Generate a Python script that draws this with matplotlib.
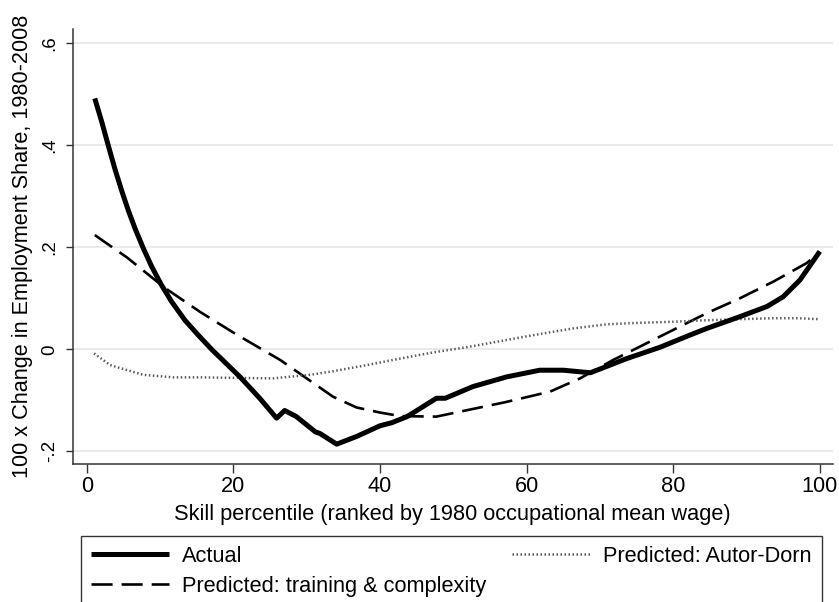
import matplotlib
matplotlib.use('Agg')
import matplotlib.pyplot as plt

plt.rcParams['font.family'] = ['Liberation Sans', 'DejaVu Sans']

# Actual
actual_x = [1.1, 2.05, 2.95, 3.86, 4.77, 5.68, 6.59, 7.72, 8.87, 10.2, 11.6, 13.4, 15.2,
            17.1, 20.9, 23.6, 25.9, 27, 28.6, 31.2, 31.8, 34.1, 36.8, 40, 41.6, 43.7,
            47.7, 48.9, 52.7, 57.3, 61.8, 65, 68.7, 73.7, 78.2, 82.3, 84.6, 89.1, 92.8,
            95, 97.3, 98.7, 100]
actual_y = [0.492, 0.446, 0.399, 0.353, 0.311, 0.272, 0.237, 0.198, 0.162, 0.126, 0.093,
            0.057, 0.028, -0.001, -0.054, -0.096, -0.135, -0.120, -0.132, -0.162, -0.165,
            -0.186, -0.171, -0.150, -0.144, -0.132, -0.096, -0.096, -0.073, -0.054,
            -0.041, -0.041, -0.046, -0.018, 0.004, 0.028, 0.041, 0.064, 0.084, 0.103,
            0.136, 0.165, 0.192]

# Predicted: training & complexity
train_x = [1.1, 5.5, 10.7, 15.5, 20.2, 26.4, 30, 33.6, 36.8, 40, 42.8, 47.7, 52, 57, 63.2,
           67.3, 71.8, 76.4, 80, 84.6, 89.1, 93.7, 98.2, 100]
train_y = [0.224, 0.180, 0.120, 0.073, 0.031, -0.021, -0.057, -0.093, -0.114, -0.124,
           -0.131, -0.132, -0.119, -0.104, -0.083, -0.057, -0.021, 0.012, 0.038, 0.071,
           0.100, 0.133, 0.169, 0.190]

# Predicted: Autor-Dorn
ad_x = [1, 3.2, 7.7, 11.8, 15.5, 20, 25.4, 30.5, 33.6, 38.2, 42.8, 47.3, 51.8, 56.4,
        61.8, 66.4, 70.9, 75.5, 80, 84.6, 89, 93.7, 97, 100]
ad_y = [-0.008, -0.031, -0.050, -0.055, -0.055, -0.056, -0.057, -0.050, -0.043, -0.031,
        -0.018, -0.006, 0.004, 0.016, 0.030, 0.041, 0.049, 0.052, 0.054, 0.057, 0.059,
        0.061, 0.061, 0.059]

xticks = [0, 20, 40, 60, 80, 100]
yticks = [-0.2, 0, 0.2, 0.4, 0.6]
ytick_labels = ['-.2', '0', '.2', '.4', '.6']

fig = plt.figure(figsize=(8.39, 6.02), dpi=100)
ax = fig.add_axes([72.5 / 839, 1 - 464.3 / 602, (833 - 72.5) / 839, (464.3 - 29.3) / 602])

ax.plot(actual_x, actual_y, color='black', lw=3.6, solid_joinstyle='round',
        solid_capstyle='butt', label='Actual', zorder=4)
ax.plot(train_x, train_y, color='black', lw=1.9, dashes=(8, 3.4),
        label='Predicted: training & complexity', zorder=3)
ax.plot(ad_x, ad_y, color='#5a5a5a', lw=1.8, linestyle=(0, (0.6, 1.0)),
        label='Predicted: Autor-Dorn', zorder=3)

ax.set_xlim(-1.94, 101.8)
ax.set_ylim(-0.2255, 0.6275)

ax.set_xticks(xticks)
ax.set_yticks(yticks)
ax.set_yticklabels(ytick_labels)
ax.tick_params(axis='x', labelsize=15.7, length=6.5, width=1, pad=2, color='#333333')
ax.tick_params(axis='y', labelsize=13.5, length=5.4, width=1, pad=5, color='#333333',
               labelrotation=90)
for lab in ax.get_yticklabels():
    lab.set_va('center')

ax.grid(axis='y', color='#e6e6e6', lw=1.2)
ax.set_axisbelow(True)
for side in ['top', 'right']:
    ax.spines[side].set_visible(False)
for side in ['left', 'bottom']:
    ax.spines[side].set_linewidth(1.1)
    ax.spines[side].set_color('#333333')

ax.set_xlabel('Skill percentile (ranked by 1980 occupational mean wage)', fontsize=15.7,
              labelpad=5)
ax.set_ylabel('100 x Change in Employment Share, 1980-2008', fontsize=15.6)
ax.yaxis.set_label_coords((33.5 - 72.5) / 760.5, 0.5)

leg = fig.legend(loc='upper left', bbox_to_anchor=(80.7 / 839, 1 - 536 / 602),
                 ncol=2, fontsize=15.7, frameon=True, fancybox=False, borderaxespad=0,
                 handlelength=3.6, handletextpad=0.58, columnspacing=1.2,
                 borderpad=0.45, labelspacing=0.42)
leg.get_frame().set_edgecolor('black')
leg.get_frame().set_linewidth(1)

fig.savefig('out.png', dpi=100)
